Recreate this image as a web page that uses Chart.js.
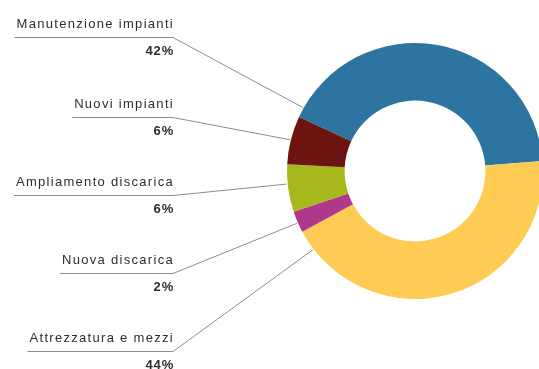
<!DOCTYPE html>
<html>
<head>
<meta charset="utf-8">
<script src="https://cdn.jsdelivr.net/npm/chart.js@4.4.1/dist/chart.umd.min.js"></script>
<style>
  html, body { margin: 0; padding: 0; background: #fff; overflow: hidden; }
  #wrap { width: 545px; height: 369px; }
</style>
</head>
<body>
<div id="wrap"><canvas id="chart" width="545" height="369"></canvas></div>
<script>
// dati (ordine in senso orario a partire dal blu)
const categories = ['Manutenzione impianti', 'Attrezzatura e mezzi', 'Nuova discarica', 'Ampliamento discarica', 'Nuovi impianti'];
const values = [41.8, 43.4, 2.7, 6.0, 6.1];
const pctLabels = ['42%', '44%', '2%', '6%', '6%'];
const colors = ['#2e74a0', '#fecc54', '#b0388c', '#a8b81c', '#6e1410'];

// etichette a sinistra: indice della fetta, y della riga, punto di aggancio lungo l'arco
const callouts = [
    { i: 0, y: 37, t: 0.03 },
    { i: 4, y: 117, t: 0.5 },
    { i: 3, y: 195, t: 0.59 },
    { i: 2, y: 273, t: 0.45 },
    { i: 1, y: 351, t: 0.94 }
];

const calloutPlugin = {
    id: 'callouts',
    afterDatasetsDraw(chart) {
        const ctx = chart.ctx;
        const arcs = chart.getDatasetMeta(0).data;
        const right = 173;
        ctx.save();
        callouts.forEach(c => {
            const arc = arcs[c.i];
            const a = arc.startAngle + c.t * (arc.endAngle - arc.startAngle);
            const r = arc.outerRadius + 1;
            const ex = arc.x + Math.cos(a) * r;
            const ey = arc.y + Math.sin(a) * r;

            ctx.font = '13px "Liberation Sans", Arial, sans-serif';
            ctx.letterSpacing = '1.3px';
            const w = ctx.measureText(categories[c.i]).width;

            // linea sotto il testo + linea verso la fetta
            ctx.strokeStyle = '#8c8c8c';
            ctx.lineWidth = 1;
            ctx.beginPath();
            ctx.moveTo(right - w - 1, c.y + 0.5);
            ctx.lineTo(right, c.y + 0.5);
            ctx.lineTo(ex, ey);
            ctx.stroke();

            ctx.fillStyle = '#2e2e2e';
            ctx.textAlign = 'right';
            ctx.textBaseline = 'alphabetic';
            ctx.fillText(categories[c.i], right + 1, c.y - 9);

            ctx.font = 'bold 13px "Liberation Sans", Arial, sans-serif';
            ctx.letterSpacing = '0.8px';
            ctx.fillText(pctLabels[c.i], right + 1, c.y + 18);
        });
        ctx.restore();
    }
};

new Chart(document.getElementById('chart'), {
    type: 'doughnut',
    data: {
        labels: categories,
        datasets: [{
            data: values,
            backgroundColor: colors,
            borderWidth: 0
        }]
    },
    options: {
        responsive: false,
        animation: false,
        rotation: -65,
        cutout: '55%',
        layout: { padding: { left: 287, right: 2, top: 43, bottom: 70 } },
        plugins: {
            legend: { display: false },
            tooltip: { enabled: false }
        }
    },
    plugins: [calloutPlugin]
});
</script>
</body>
</html>
